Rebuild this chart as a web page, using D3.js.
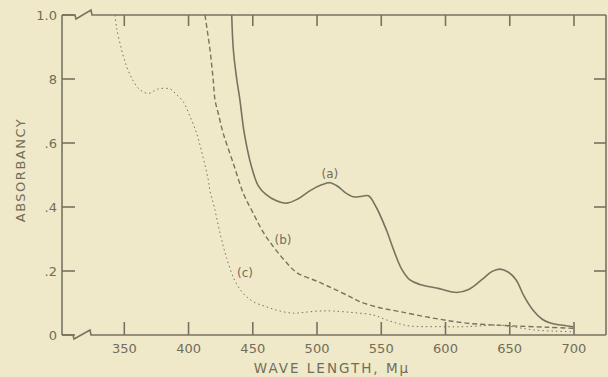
<!DOCTYPE html>
<html>
<head>
<meta charset="utf-8">
<script src="https://cdn.jsdelivr.net/npm/d3@7"></script>
<style>
  body { margin: 0; background: #efe9c9; }
  svg { display: block; }
  text { font-family: "DejaVu Sans", sans-serif; fill: #716d5a; }
</style>
</head>
<body>
<svg id="chart" width="608" height="377"></svg>
<script>
// wave length (m\u03bc) and absorbancy
var curveA = [
    [433.6, 1.0], [434.9, 0.89], [437.5, 0.80], [440, 0.734], [443.4, 0.63],
    [449, 0.526], [454.3, 0.466], [460, 0.44], [468, 0.42], [476.4, 0.412],
    [485, 0.425], [495, 0.452], [504, 0.47], [510, 0.476], [516, 0.465],
    [522, 0.445], [528.2, 0.432], [534, 0.433], [540, 0.435], [546, 0.40],
    [554, 0.328], [560, 0.262], [566, 0.205], [572.3, 0.172], [580, 0.158],
    [595, 0.145], [608.7, 0.133], [618, 0.142], [628, 0.172], [636, 0.198],
    [642.4, 0.206], [649, 0.196], [655, 0.172], [661, 0.122], [668, 0.078],
    [675, 0.050], [681, 0.038], [690, 0.031], [699.4, 0.026]
];
var curveB = [
    [412.8, 1.0], [416.7, 0.891], [419.2, 0.797], [420.6, 0.734], [423.1, 0.693],
    [427, 0.63], [434.8, 0.537], [442.6, 0.443], [450.4, 0.38], [458, 0.322],
    [466, 0.276], [475, 0.232], [484.2, 0.195], [500, 0.168], [512.6, 0.145],
    [525.6, 0.12], [533.4, 0.104], [548, 0.086], [564.5, 0.073], [590, 0.053],
    [616.4, 0.037], [650, 0.029], [680, 0.024], [699.4, 0.021]
];
var curveC = [
    [342.8, 1.0], [344, 0.96], [348, 0.89], [351.9, 0.838], [356.5, 0.797],
    [362.2, 0.766], [368.7, 0.755], [376.5, 0.769], [385.6, 0.769], [389.5, 0.756],
    [396, 0.728], [400.6, 0.688], [406.3, 0.63], [411, 0.56], [415.4, 0.484],
    [416.7, 0.45], [420, 0.40], [425, 0.31], [429.7, 0.24], [436, 0.17],
    [442.6, 0.13], [450.4, 0.104], [460.8, 0.088], [470, 0.076], [481.5, 0.068],
    [490, 0.071], [502.3, 0.075], [512.6, 0.075], [528, 0.07], [543.8, 0.0625],
    [554.2, 0.047], [563, 0.036], [572.3, 0.028], [595, 0.026], [616.4, 0.026],
    [642.4, 0.031], [655, 0.024], [668.3, 0.016], [685, 0.012], [699.4, 0.01]
];
var xTicks = [350, 400, 450, 500, 550, 600, 650, 700];
var yTicks = [0, 0.2, 0.4, 0.6, 0.8, 1.0];
var yTickLabels = ["0", ".2", ".4", ".6", "8", "1.0"];
var rightTicks = [0.2, 0.4, 0.6, 0.8];
var curveLabels = [
    { text: "(a)", wl: 510, ab: 0.49 },
    { text: "(b)", wl: 473.5, ab: 0.284 },
    { text: "(c)", wl: 444, ab: 0.181 }
];

var ink = "#77735f";
var svg = d3.select("#chart");
var pLeft = 62, pRight = 606, pTop = 15, pBottom = 335;

var x = d3.scaleLinear().domain([350, 700]).range([124.3, 574]);
var y = d3.scaleLinear().domain([0, 1]).range([pBottom, pTop]);

var frame = svg.append("g")
    .attr("stroke", ink)
    .attr("stroke-width", 1.6)
    .attr("fill", "none");

// left + right axis
frame.append("line").attr("x1", pLeft).attr("x2", pLeft).attr("y1", pTop).attr("y2", pBottom);
frame.append("line").attr("x1", pRight).attr("x2", pRight).attr("y1", pTop).attr("y2", pBottom);
// top and bottom axes with the break marks
frame.append("path")
    .attr("d", "M" + pLeft + "," + pTop + " H75 L76," + (pTop + 4) + " L91," + (pTop - 5) + " L92," + pTop + " H" + pRight);
frame.append("path")
    .attr("d", "M" + pLeft + "," + pBottom + " H73 L74," + (pBottom + 4) + " L90," + (pBottom - 5) + " L91," + pBottom + " H" + pRight);

// inward ticks
var tickG = svg.append("g").attr("fill", ink);
tickG.selectAll(".xb").data(xTicks).enter().append("rect")
    .attr("x", function (d) { return x(d) - 0.8; }).attr("y", pBottom - 13)
    .attr("width", 1.6).attr("height", 13);
tickG.selectAll(".xt").data(xTicks).enter().append("rect")
    .attr("x", function (d) { return x(d) - 0.8; }).attr("y", pTop)
    .attr("width", 1.6).attr("height", 11);
tickG.selectAll(".yl").data(yTicks).enter().append("rect")
    .attr("x", pLeft).attr("y", function (d) { return y(d) - 0.8; })
    .attr("width", 13).attr("height", 1.6);
tickG.selectAll(".yr").data(rightTicks).enter().append("rect")
    .attr("x", pRight - 12).attr("y", function (d) { return y(d) - 0.8; })
    .attr("width", 12).attr("height", 1.6);

svg.selectAll(".xlab").data(xTicks).enter().append("text")
    .attr("x", function (d) { return x(d); })
    .attr("y", 353)
    .attr("text-anchor", "middle")
    .attr("font-size", 13)
    .text(function (d) { return d; });

svg.selectAll(".ylab").data(yTicks).enter().append("text")
    .attr("x", 57)
    .attr("y", function (d) { return y(d) + 5; })
    .attr("text-anchor", "end")
    .attr("font-size", 13)
    .text(function (d, i) { return yTickLabels[i]; });

svg.append("text")
    .attr("x", 332).attr("y", 373)
    .attr("text-anchor", "middle")
    .attr("font-size", 13.5)
    .attr("letter-spacing", 2)
    .text("WAVE LENGTH, M\u03bc");

svg.append("text")
    .attr("transform", "translate(25,170) rotate(-90)")
    .attr("text-anchor", "middle")
    .attr("font-size", 13)
    .attr("letter-spacing", 1.5)
    .text("ABSORBANCY");

var smooth = d3.line()
    .x(function (d) { return x(d[0]); })
    .y(function (d) { return y(d[1]); })
    .curve(d3.curveCatmullRom);

svg.append("path").datum(curveA)
    .attr("d", smooth)
    .attr("fill", "none").attr("stroke", ink).attr("stroke-width", 1.6);

svg.append("path").datum(curveB)
    .attr("d", smooth)
    .attr("fill", "none").attr("stroke", ink).attr("stroke-width", 1.4)
    .attr("stroke-dasharray", "5,3");

svg.append("path").datum(curveC)
    .attr("d", smooth)
    .attr("fill", "none").attr("stroke", ink).attr("stroke-width", 1)
    .attr("stroke-dasharray", "1.5,3");

svg.selectAll(".clab").data(curveLabels).enter().append("text")
    .attr("x", function (d) { return x(d.wl); })
    .attr("y", function (d) { return y(d.ab); })
    .attr("text-anchor", "middle")
    .attr("font-size", 12)
    .text(function (d) { return d.text; });
</script>
</body>
</html>
